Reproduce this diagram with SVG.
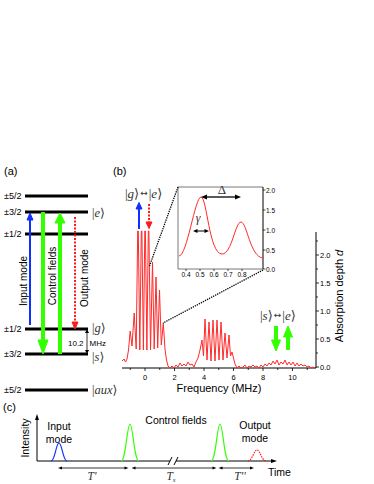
<svg xmlns="http://www.w3.org/2000/svg" width="374" height="484" viewBox="0 0 374 484">
<defs>
<style>
.lbl{font-family:"Liberation Sans",Arial,sans-serif;fill:#000}
.ket{font-family:"Liberation Serif","DejaVu Serif",serif;fill:#333}
.it{font-style:italic}
.lvl{stroke:#000;stroke-width:3}
.ax{stroke:#000;stroke-width:1;fill:none}
.inbox{stroke:#555;stroke-width:0.8;fill:none}
.spec{stroke:#ff2a2a;stroke-width:1;fill:none;stroke-linejoin:round}
.dots{stroke:#000;stroke-width:1.3;stroke-dasharray:1.3 1;fill:none}
.blue{stroke:#1030ff;fill:#1030ff}
.green{stroke:#33ff00;fill:#33ff00}
.red{stroke:#ff1a1a;fill:#ff1a1a}
.arr{font-family:"DejaVu Sans",sans-serif;font-size:9px}
</style>
</defs>
<rect width="374" height="484" fill="#fff"/>

<!-- Panel (a) -->
<text class="lbl" x="4" y="175" font-size="11">(a)</text>
<g id="level-top52"><line class="lvl" x1="25" y1="196" x2="88" y2="196"/><text class="lbl" x="4" y="199" font-size="9">±5/2</text></g>
<g id="level-e"><line class="lvl" x1="25" y1="212" x2="88" y2="212"/><text class="lbl" x="4" y="215" font-size="9">±3/2</text><text class="ket" x="92" y="216.5" font-size="12.5">|<tspan class="it">e</tspan>⟩</text></g>
<g id="level-top12"><line class="lvl" x1="25" y1="234" x2="88" y2="234"/><text class="lbl" x="4" y="237" font-size="9">±1/2</text></g>
<g id="level-g"><line class="lvl" x1="25" y1="329" x2="88" y2="329"/><text class="lbl" x="4" y="332" font-size="9">±1/2</text><text class="ket" x="92" y="332" font-size="12.5">|<tspan class="it">g</tspan>⟩</text></g>
<g id="level-s"><line class="lvl" x1="25" y1="354" x2="88" y2="354"/><text class="lbl" x="4" y="357" font-size="9">±3/2</text><text class="ket" x="92" y="361" font-size="12.5">|<tspan class="it">s</tspan>⟩</text></g>
<g id="level-aux"><line class="lvl" x1="25" y1="390" x2="88" y2="390"/><text class="lbl" x="4" y="393" font-size="9">±5/2</text><text class="ket" x="92" y="394" font-size="12.5">|<tspan class="it">aux</tspan>⟩</text></g>

<g id="connectors-a">
<line class="blue" x1="30" y1="325" x2="30" y2="219" stroke-width="2"/>
<polygon class="blue" points="30,213 27,220 33,220" stroke="none"/>
<line class="green" x1="43" y1="212" x2="43" y2="342" stroke-width="4"/>
<polygon class="green" points="43,354 38,340 48,340" stroke="none"/>
<line class="green" x1="60" y1="354" x2="60" y2="222" stroke-width="4"/>
<polygon class="green" points="60,213 55,223 65,223" stroke="none"/>
<line class="red" x1="75" y1="217" x2="75" y2="323" stroke-width="2" stroke-dasharray="2 1.5" fill="none"/>
<polygon class="red" points="75,329 72,322 78,322" stroke="none"/>
<line x1="87" y1="332" x2="87" y2="351" stroke="#000" stroke-width="0.8"/>
<polygon points="87,329 85,333 89,333" fill="#000"/>
<polygon points="87,354 85,350 89,350" fill="#000"/>
</g>
<text class="lbl" font-size="10" transform="translate(27,281) rotate(-90)" text-anchor="middle">Input mode</text>
<text class="lbl" font-size="10" transform="translate(56,276) rotate(-90)" text-anchor="middle">Control fields</text>
<text class="lbl" font-size="10" transform="translate(87.5,278) rotate(-90)" text-anchor="middle">Output mode</text>
<text class="lbl" x="68" y="346" font-size="8">10.2</text>
<text class="lbl" x="89.5" y="346" font-size="8">MHz</text>

<!-- Panel (b) -->
<text class="lbl" x="113" y="175" font-size="11">(b)</text>
<g id="main-plot">
<line class="ax" x1="122" y1="368" x2="316" y2="368"/>
<line class="ax" x1="316" y1="232" x2="316" y2="368"/>
<g stroke="#000" stroke-width="0.8">
<line x1="145" y1="368" x2="145" y2="371"/><line x1="174.5" y1="368" x2="174.5" y2="371"/><line x1="204" y1="368" x2="204" y2="371"/><line x1="233.5" y1="368" x2="233.5" y2="371"/><line x1="263" y1="368" x2="263" y2="371"/><line x1="292.5" y1="368" x2="292.5" y2="371"/>
<line x1="130.25" y1="368" x2="130.25" y2="370"/><line x1="159.75" y1="368" x2="159.75" y2="370"/><line x1="189.25" y1="368" x2="189.25" y2="370"/><line x1="218.75" y1="368" x2="218.75" y2="370"/><line x1="248.25" y1="368" x2="248.25" y2="370"/><line x1="277.75" y1="368" x2="277.75" y2="370"/><line x1="307.25" y1="368" x2="307.25" y2="370"/>
<line x1="316" y1="367" x2="319" y2="367"/><line x1="316" y1="339" x2="319" y2="339"/><line x1="316" y1="311" x2="319" y2="311"/><line x1="316" y1="283" x2="319" y2="283"/><line x1="316" y1="255" x2="319" y2="255"/>
<line x1="316" y1="353" x2="318" y2="353"/><line x1="316" y1="325" x2="318" y2="325"/><line x1="316" y1="297" x2="318" y2="297"/><line x1="316" y1="269" x2="318" y2="269"/><line x1="316" y1="241" x2="318" y2="241"/>
</g>
<g class="lbl" font-size="7.5" text-anchor="middle">
<text x="145" y="380">0</text><text x="174.5" y="380">2</text><text x="204" y="380">4</text><text x="233.5" y="380">6</text><text x="263" y="380">8</text><text x="292.5" y="380">10</text>
</g>
<g class="lbl" font-size="7.5">
<text x="320" y="370">0.0</text><text x="320" y="342">0.5</text><text x="320" y="314">1.0</text><text x="320" y="286">1.5</text><text x="320" y="258">2.0</text>
</g>
<text class="lbl" x="219" y="392" font-size="11" text-anchor="middle">Frequency (MHz)</text>
<text class="lbl" font-size="11" transform="translate(343,296) rotate(-90)" text-anchor="middle">Absorption depth <tspan font-style="italic">d</tspan></text>
<path class="spec" d="M122,361 L124,359 L125.5,362 L127,359 L128.5,350 L130.2,331 L132,346 L134.2,313 L136.2,349 L137.7,231 L138.3,231 L139.8,350 L141.3,231 L141.9,231 L143.4,350 L144.8,231 L145.4,231 L146.9,350 L148.3,231 L148.9,231 L150.5,350 L152.5,262 L154.2,349 L156,277 L157.7,348 L159.5,290 L161.3,345 L163.3,323 L165,349 L166.5,360 L168,366 L170,368 L172,366 L174,368 L176,365 L178,367 L180,363 L182,366 L184,364 L186,366 L188,362 L190,365 L192,364 L194,367 L196,362 L198,358 L200,350 L202,340 L203.5,356 L205,319 L207,360 L209,322 L211,361 L213,320 L215,361 L217,320 L219,360 L221,322 L223,360 L225,333 L227,358 L229,335 L230.5,356 L232,352 L233.5,358 L235,364 L237,368 L239,366 L241,368 L243,367 L245,365 L247,368 L249,366 L251,367 L253,365 L255,367 L257,366 L259,368 L261,365 L263,367 L265,364 L267,366 L269,363 L271,365 L273,361 L275,364 L277,360 L279,365 L281,362 L283,364 L285,360 L287,365 L289,362 L291,365 L293,362 L295,366 L297,363 L299,366 L301,364 L303,366 L305,365 L307,367 L309,366 L311,368 L313,367 L315,368"/>
</g>

<g id="inset">
<polyline class="inbox" points="263,187 178,187 178,269 263,269"/>
<line class="ax" x1="263" y1="187" x2="263" y2="269"/>
<g stroke="#000" stroke-width="0.7">
<line x1="263" y1="190" x2="265.5" y2="190"/><line x1="263" y1="210" x2="265.5" y2="210"/><line x1="263" y1="230" x2="265.5" y2="230"/><line x1="263" y1="250" x2="265.5" y2="250"/><line x1="263" y1="269" x2="265.5" y2="269"/>
<line x1="186" y1="269" x2="186" y2="271"/><line x1="200" y1="269" x2="200" y2="271"/><line x1="214" y1="269" x2="214" y2="271"/><line x1="228" y1="269" x2="228" y2="271"/><line x1="242" y1="269" x2="242" y2="271"/>
</g>
<g class="lbl" font-size="6.5">
<text x="266" y="192.5">2.0</text><text x="266" y="212.5">1.5</text><text x="266" y="232.5">1.0</text><text x="266" y="252.5">0.5</text><text x="266" y="271.5">0.0</text>
</g>
<g class="lbl" font-size="6.5" text-anchor="middle">
<text x="186" y="277">0.4</text><text x="200" y="277">0.5</text><text x="214" y="277">0.6</text><text x="228" y="277">0.7</text><text x="242" y="277">0.8</text>
</g>
<path class="spec" d="M179,256 C187,256 195,197 201,197 C207,197 209,254 222,254 C232,254 235,222 241,222 C247,222 250,257 263,258"/>
<line x1="205" y1="197" x2="237" y2="197" stroke="#000" stroke-width="1.3"/>
<polygon points="201,197 207,194.5 207,199.5" fill="#000"/>
<polygon points="241,197 235,194.5 235,199.5" fill="#000"/>
<text class="ket" x="222" y="194" font-size="13" text-anchor="middle" fill="#000">Δ</text>
<line x1="196" y1="231" x2="206" y2="231" stroke="#000" stroke-width="1"/>
<polygon points="193,231 197.5,229 197.5,233" fill="#000"/>
<polygon points="209,231 204.5,229 204.5,233" fill="#000"/>
<text class="ket it" x="198" y="222" font-size="12" text-anchor="middle" fill="#000">γ</text>
</g>

<g id="connectors-b">
<line class="dots" x1="178" y1="187" x2="149.5" y2="266"/>
<line class="dots" x1="263" y1="270" x2="163" y2="323"/>
<line class="blue" x1="139" y1="229" x2="139" y2="208" stroke-width="2"/>
<polygon class="blue" points="139,202.5 136,209 142,209" stroke="none"/>
<line class="red" x1="149" y1="204" x2="149" y2="222" stroke-width="2" stroke-dasharray="2 1.5" fill="none"/>
<polygon class="red" points="149,228.5 146,222 152,222" stroke="none"/>
<line class="green" x1="276" y1="326" x2="276" y2="342" stroke-width="4"/>
<polygon class="green" points="276,351 271.5,340 280.5,340" stroke="none"/>
<line class="green" x1="288" y1="350" x2="288" y2="335" stroke-width="4"/>
<polygon class="green" points="288,326 283.5,337 292.5,337" stroke="none"/>
</g>
<text class="ket" x="125" y="197.5" font-size="13">|<tspan class="it">g</tspan>⟩<tspan class="arr" dx="1" dy="-1.5">↔</tspan><tspan dx="1" dy="1.5">|</tspan><tspan class="it">e</tspan>⟩</text>
<text class="ket" x="260" y="319.5" font-size="13">|<tspan class="it">s</tspan>⟩<tspan class="arr" dx="1" dy="-1.5">↔</tspan><tspan dx="1" dy="1.5">|</tspan><tspan class="it">e</tspan>⟩</text>

<!-- Panel (c) -->
<text class="lbl" x="3" y="411" font-size="11">(c)</text>
<g id="axes-c">
<line class="ax" x1="37" y1="461" x2="37" y2="419"/>
<polygon points="37,414 35,420 39,420" fill="#000"/>
<line class="ax" x1="37" y1="461" x2="272" y2="461"/>
<polygon points="277,461 271,459 271,463" fill="#000"/>
<rect x="170" y="458" width="6" height="6" fill="#fff"/>
<line x1="168" y1="465" x2="172" y2="457" stroke="#000" stroke-width="1"/>
<line x1="174" y1="465" x2="178" y2="457" stroke="#000" stroke-width="1"/>
<text class="lbl" font-size="10.5" transform="translate(29,438) rotate(-90)" text-anchor="middle">Intensity</text>
<text class="lbl" x="268" y="476" font-size="10.5">Time</text>
</g>
<g id="pulse-input">
<path d="M51,461 C55,461 56,443 59,443 C62,443 63,461 67,461" fill="none" stroke="#1030ff" stroke-width="1.2"/>
<text class="lbl" x="59" y="430" font-size="10.5" text-anchor="middle">Input</text>
<text class="lbl" x="59" y="443" font-size="10.5" text-anchor="middle">mode</text>
</g>
<g id="pulse-control">
<path d="M121,461 C126,461 127,424 130,424 C133,424 134,461 139,461" fill="none" stroke="#33ff00" stroke-width="1.2"/>
<path d="M211,461 C216,461 217,424 220,424 C223,424 224,461 229,461" fill="none" stroke="#33ff00" stroke-width="1.2"/>
<text class="lbl" x="176" y="424" font-size="10.5" text-anchor="middle">Control fields</text>
</g>
<g id="pulse-output">
<path d="M248,461 C252,461 254,450 257,450 C260,450 262,461 266,461" fill="none" stroke="#ff1a1a" stroke-width="1.2" stroke-dasharray="1.5 1"/>
<text class="lbl" x="255" y="429" font-size="10.5" text-anchor="middle">Output</text>
<text class="lbl" x="255" y="442" font-size="10.5" text-anchor="middle">mode</text>
</g>
<g id="connectors-c" stroke="#000" stroke-width="0.8">
<line x1="61" y1="468" x2="125" y2="468"/>
<polygon points="58,468 62,466.5 62,469.5" fill="#000" stroke="none"/>
<polygon points="128.5,468 124.5,466.5 124.5,469.5" fill="#000" stroke="none"/>
<line x1="135" y1="468" x2="213" y2="468"/>
<polygon points="131.5,468 135.5,466.5 135.5,469.5" fill="#000" stroke="none"/>
<polygon points="216.5,468 212.5,466.5 212.5,469.5" fill="#000" stroke="none"/>
<line x1="222" y1="468" x2="251" y2="468"/>
<polygon points="218.5,468 222.5,466.5 222.5,469.5" fill="#000" stroke="none"/>
<polygon points="254,468 250,466.5 250,469.5" fill="#000" stroke="none"/>
</g>
<text class="ket it" x="92" y="480" font-size="11.5" text-anchor="middle">T'</text>
<text class="ket it" x="171" y="480" font-size="11.5" text-anchor="middle">T<tspan font-size="7" dy="2">s</tspan></text>
<text class="ket it" x="240" y="480" font-size="11.5" text-anchor="middle">T''</text>
</svg>
